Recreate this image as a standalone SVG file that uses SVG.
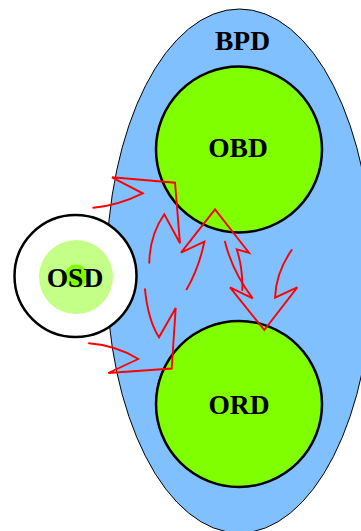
<svg xmlns="http://www.w3.org/2000/svg" width="361" height="531" viewBox="0 0 361 531">
  <style>
    .lbl { font-family: "Liberation Serif", "Times New Roman", serif; font-weight: bold; font-size: 27.5px; fill: #000; text-anchor: middle; }
    .circ { fill: #80ff00; stroke: #000; stroke-width: 2.5; }
    .arr { fill: none; stroke: #ff0000; stroke-width: 1.9; stroke-linejoin: miter; stroke-linecap: round; }
  </style>
  <rect x="0" y="0" width="361" height="531" fill="#ffffff"/>
  <g id="BPD">
    <ellipse cx="239.5" cy="271" rx="133" ry="262" fill="#80c0ff" stroke="#000" stroke-width="1"/>
    <text class="lbl" x="242.5" y="50">BPD</text>
  </g>
  <g id="OBD">
    <circle class="circ" cx="239" cy="149.5" r="83"/>
    <text class="lbl" x="238" y="157">OBD</text>
  </g>
  <g id="ORD">
    <circle class="circ" cx="239" cy="404" r="83"/>
    <text class="lbl" x="239" y="414">ORD</text>
  </g>
  <g id="OSD">
    <circle cx="75.5" cy="276" r="61" fill="#ffffff" stroke="#000" stroke-width="2.5"/>
    <circle cx="76" cy="277" r="37" fill="#c4ff88"/>
    <circle cx="76" cy="276" r="11.5" fill="#80ff00"/>
    <text class="lbl" x="75" y="287">OSD</text>
  </g>
  <g id="connectors">
    <path class="arr" d="M93.3,207.7 Q118,205.5 142.7,193.3 L112,177.3 L175,182.7 L180,243.3 L164.3,214.3 Q149.8,234.9 149.3,262.7"/>
    <path class="arr" d="M89,343.3 Q116.3,345.4 138.3,359 L108.3,373 L171.7,368.5 L175.7,308 L159,337.3 Q148,320 145,289.3"/>
    <path class="arr" d="M186.7,289.3 Q199,267.9 204.3,241.7 L181,252.7 L215,209.3 L249,252.7 L236.7,249.3 Q243,268.3 242.3,290"/>
    <path class="arr" d="M225,241.7 Q232.5,272 252.7,298.3 L230,287.3 L264.3,330 L297.3,287.3 L275,297.7 Q276,272.2 291.7,250"/>
  </g>
</svg>
